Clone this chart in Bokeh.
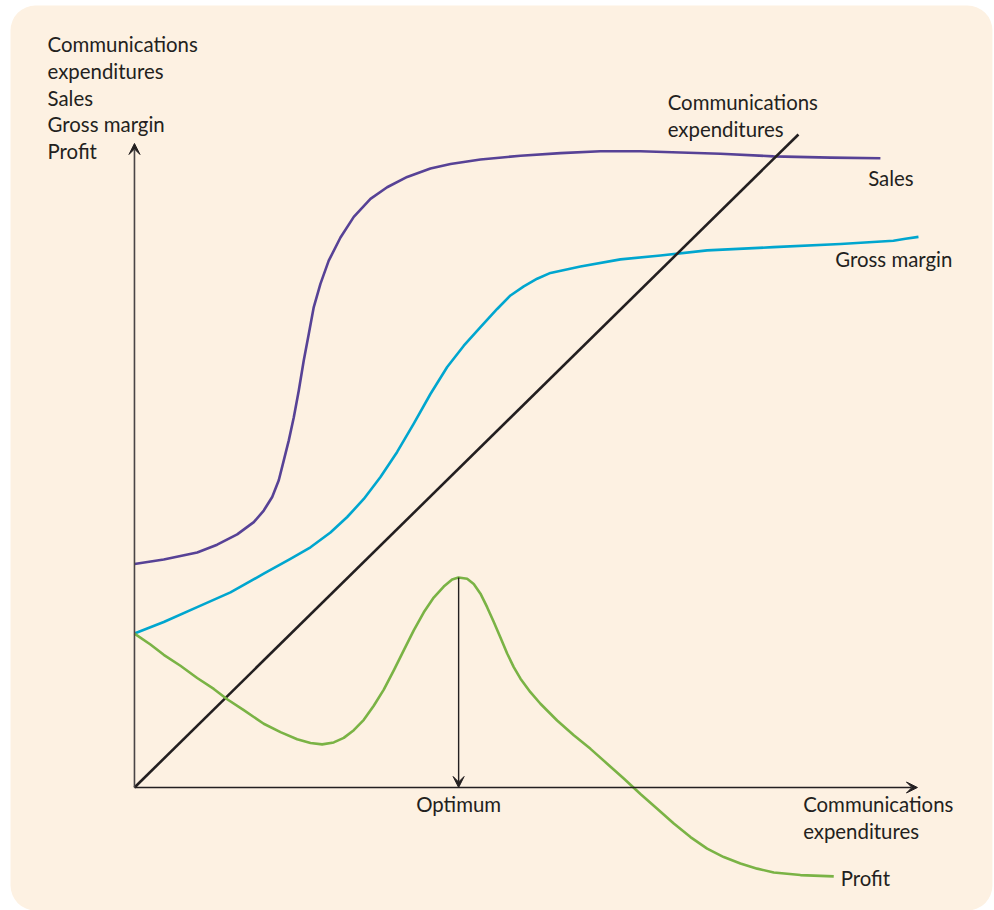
from bokeh.plotting import figure
from bokeh.models import Range1d, Arrow, VeeHead, BoxAnnotation
from bokeh.core.properties import value
from bokeh.embed import file_html
from bokeh.resources import INLINE

# ---- data (arbitrary units: x = communications expenditures, y = amount) ----
sales_x = [0, 3.74, 8.01, 10.56, 13.12, 15.24, 16.51, 17.59, 18.43, 19.07, 19.71, 20.35, 20.98,
           21.62, 22.26, 22.90, 23.75, 24.81, 26.31, 28.01, 30.14, 32.27, 34.83, 37.80, 40.36,
           44.19, 49.30, 54.41, 59.51, 64.62, 69.73, 74.84, 81.61, 88.89, 95.27]
sales_y = [34.7, 35.4, 36.5, 37.7, 39.3, 41.2, 43.0, 45.1, 47.7, 50.8, 53.9, 57.5, 61.6,
           66.3, 70.4, 74.6, 78.2, 81.8, 85.4, 88.6, 91.4, 93.2, 94.8, 96.1, 96.8,
           97.5, 98.1, 98.5, 98.8, 98.8, 98.6, 98.4, 98.0, 97.8, 97.7]

margin_x = [0, 3.74, 8.01, 12.26, 16.51, 19.92, 22.48, 25.03, 27.17, 29.29, 31.42, 33.55, 35.67,
            37.80, 39.94, 42.06, 44.19, 46.32, 48.02, 49.72, 51.43, 53.13, 56.96, 62.07, 67.18,
            73.14, 81.61, 90.17, 96.93, 98.47, 100.13]
margin_y = [23.9, 25.7, 28.0, 30.3, 33.2, 35.5, 37.3, 39.6, 42.0, 44.8, 48.2, 52.1, 56.5,
            61.1, 65.3, 68.6, 71.5, 74.3, 76.4, 77.8, 79.0, 79.9, 80.9, 82.0, 82.6,
            83.4, 83.9, 84.4, 84.9, 85.2, 85.5]

profit_x = [0, 2.04, 3.74, 5.87, 8.01, 10.13, 11.84, 13.96, 16.51, 18.65, 20.78, 22.48, 23.97,
            25.45, 26.73, 28.01, 29.29, 30.56, 31.84, 33.12, 34.39, 35.67, 36.95, 38.22, 39.50,
            40.57, 41.38, 42.49, 43.33, 44.19, 45.04, 45.89, 46.74, 47.60, 48.44, 49.30, 50.57,
            51.85, 53.98, 56.11, 58.24, 60.37, 62.49, 64.62, 66.76, 68.88, 71.01, 73.14, 75.26,
            77.39, 79.53, 81.65, 85.06, 89.31]
profit_y = [23.9, 22.2, 20.6, 18.9, 17.0, 15.3, 13.7, 12.0, 9.9, 8.6, 7.5, 6.9, 6.7,
            7.0, 7.7, 8.9, 10.5, 12.7, 15.2, 18.2, 21.3, 24.4, 27.2, 29.5, 31.2,
            32.3, 32.6, 32.4, 31.6, 30.1, 28.0, 25.7, 23.3, 20.8, 18.7, 16.9, 14.8,
            13.0, 10.4, 8.1, 6.0, 3.7, 1.4, -1.0, -3.3, -5.6, -7.7, -9.5, -10.8,
            -11.8, -12.6, -13.2, -13.6, -13.8]

comm_x = [0, 84.8]
comm_y = [0, 101.4]

optimum_x = 41.4
optimum_y = 32.6

# ---- styles ----
BG = "#FDF1E2"
INK = "#231F20"
PURPLE = "#574296"
CYAN = "#00A6CF"
GREEN = "#7AB345"
FONT = value("Lato")
FS = "20.4px"

p = figure(width=994, height=910, output_backend="svg", toolbar_location=None,
           x_range=Range1d(-17.11, 109.84), y_range=Range1d(-19.10, 122.20),
           x_axis_location=None, y_axis_location=None, min_border=0,
           background_fill_color="white", border_fill_color="white", outline_line_color=None)
p.grid.visible = False

p.add_layout(BoxAnnotation(left=-15.83, right=109.58, top=121.42, bottom=-19.10,
                           fill_color=BG, fill_alpha=1, line_color=None, border_radius=25,
                           level="underlay"))

# axes
p.add_layout(Arrow(end=VeeHead(size=11, fill_color=INK, line_color=INK),
                   x_start=0, y_start=0, x_end=100, y_end=0, line_color=INK, line_width=1.6))
p.add_layout(Arrow(end=VeeHead(size=11, fill_color=INK, line_color=INK),
                   x_start=0, y_start=0, x_end=0, y_end=100, line_color="#4a4546", line_width=1.6))

# curves
p.line(sales_x, sales_y, line_color=PURPLE, line_width=2.6, line_join="round")
p.line(margin_x, margin_y, line_color=CYAN, line_width=2.6, line_join="round")
p.line(comm_x, comm_y, line_color=INK, line_width=2.6)
p.line(profit_x, profit_y, line_color=GREEN, line_width=2.6, line_join="round")

# optimum arrow
p.add_layout(Arrow(end=VeeHead(size=11, fill_color=INK, line_color=INK),
                   x_start=optimum_x, y_start=optimum_y, x_end=optimum_x, y_end=0,
                   line_color=INK, line_width=1.4))

# labels
lab_x = [-11.1, -11.1, -11.1, -11.1, -11.1, 68.1, 68.1, 93.7, 89.5, 85.4, 85.4, 90.2]
lab_y = [115.4, 111.2, 107.1, 103.0, 98.8, 106.4, 102.3, 94.7, 82.0, -2.6, -6.7, -14.1]
lab_t = ["Communications", "expenditures", "Sales", "Gross margin", "Profit",
         "Communications", "expenditures", "Sales", "Gross margin",
         "Communications", "expenditures", "Profit"]
p.text(lab_x, lab_y, text=lab_t, text_font=FONT, text_font_size=FS, text_color=INK,
       text_align="left", text_baseline="middle")
p.text([optimum_x], [-2.6], text=["Optimum"], text_font=FONT, text_font_size=FS, text_color=INK,
       text_align="center", text_baseline="middle")

open("out.html", "w").write(file_html(p, INLINE))
